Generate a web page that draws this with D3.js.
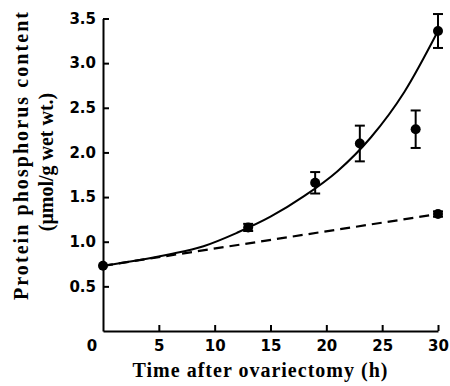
<!DOCTYPE html>
<html>
<head>
<meta charset="utf-8">
<script src="https://cdn.jsdelivr.net/npm/d3@7"></script>
<style>
	body { margin: 0; background: #fff; }
	svg { display: block; }
	.tick text, .zero { font-family: 'DejaVu Sans', sans-serif; font-weight: bold; font-size: 15px; fill: #000; }
	.title { font-family: 'Liberation Serif', 'DejaVu Serif', serif; font-weight: bold; font-size: 20px; fill: #000; }
</style>
</head>
<body>
<svg id="svg" width="450" height="386"></svg>
<script>
// measured points (time h, content, error)
const times = [0, 13, 19, 23, 28, 30];
const means = [0.73, 1.16, 1.66, 2.1, 2.26, 3.36];
const errs = [0, 0.04, 0.12, 0.2, 0.21, 0.19];

// control point at 30 h
const ctrlTimes = [30];
const ctrlMeans = [1.31];
const ctrlErrs = [0.03];

// solid curve
const curveT = [0, 3, 6, 9, 12, 15, 18, 21, 24, 27, 30];
const curveY = [0.73, 0.79, 0.86, 0.95, 1.1, 1.28, 1.51, 1.79, 2.17, 2.68, 3.36];

// dashed line
const dashT = [0, 30];
const dashY = [0.73, 1.31];

const xTicks = [5, 10, 15, 20, 25, 30];
const yTicks = [0.5, 1.0, 1.5, 2.0, 2.5, 3.0, 3.5];

const margin = { top: 18.5, right: 12, bottom: 55, left: 103 };
const width = 450 - margin.left - margin.right;
const height = 386 - margin.top - margin.bottom;

const x = d3.scaleLinear().domain([0, 30]).range([margin.left, margin.left + width]);
const y = d3.scaleLinear().domain([0, 3.5]).range([margin.top + height, margin.top]);

const svg = d3.select('#svg');

// axes, ticks point inward
const xAxis = d3.axisBottom(x).tickValues(xTicks).tickSizeInner(-6).tickSizeOuter(0).tickPadding(9).tickFormat(d3.format('d'));
const yAxis = d3.axisLeft(y).tickValues(yTicks).tickSizeInner(-6).tickSizeOuter(0).tickPadding(7).tickFormat(d3.format('.1f'));

const gx = svg.append('g').attr('transform', `translate(0, ${margin.top + height})`).call(xAxis);
const gy = svg.append('g').attr('transform', `translate(${margin.left}, 0)`).call(yAxis);
[gx, gy].forEach((g) => {
	g.select('.domain').attr('stroke', '#000').attr('stroke-width', 2);
	g.selectAll('.tick line').attr('stroke', '#000').attr('stroke-width', 2);
});

// shared origin label
svg.append('text')
	.attr('class', 'zero')
	.attr('x', x(0) - 11)
	.attr('y', margin.top + height + 9)
	.attr('text-anchor', 'middle')
	.attr('dy', '0.71em')
	.text('0');

// titles
svg.append('text')
	.attr('class', 'title')
	.attr('x', 260)
	.attr('y', 377)
	.attr('text-anchor', 'middle')
	.attr('textLength', 255)
	.text('Time after ovariectomy (h)');

svg.append('text')
	.attr('class', 'title')
	.attr('transform', 'translate(28, 156) rotate(-90)')
	.attr('text-anchor', 'middle')
	.attr('textLength', 288)
	.text('Protein phosphorus content');

svg.append('text')
	.attr('class', 'title')
	.attr('transform', 'translate(53, 162) rotate(-90)')
	.attr('text-anchor', 'middle')
	.text('(\u03bcmol/g wet wt.)');

// lines
const line = d3.line().x((d) => x(d[0])).y((d) => y(d[1]));

svg.append('path')
	.datum(curveT.map((t, i) => [t, curveY[i]]))
	.attr('d', line.curve(d3.curveMonotoneX))
	.attr('fill', 'none')
	.attr('stroke', '#000')
	.attr('stroke-width', 2);

svg.append('path')
	.datum(dashT.map((t, i) => [t, dashY[i]]))
	.attr('d', d3.line().x((d) => x(d[0])).y((d) => y(d[1])))
	.attr('fill', 'none')
	.attr('stroke', '#000')
	.attr('stroke-width', 2.2)
	.attr('stroke-dasharray', '10,6');

// points with error bars
const pts = times.map((t, i) => ({ t: t, m: means[i], e: errs[i] }))
	.concat(ctrlTimes.map((t, i) => ({ t: t, m: ctrlMeans[i], e: ctrlErrs[i] })));

const eb = svg.append('g').attr('stroke', '#000').attr('stroke-width', 2);
pts.filter((d) => d.e > 0).forEach((d) => {
	eb.append('line').attr('x1', x(d.t)).attr('x2', x(d.t)).attr('y1', y(d.m - d.e)).attr('y2', y(d.m + d.e));
	eb.append('line').attr('x1', x(d.t) - 5).attr('x2', x(d.t) + 5).attr('y1', y(d.m + d.e)).attr('y2', y(d.m + d.e));
	eb.append('line').attr('x1', x(d.t) - 5).attr('x2', x(d.t) + 5).attr('y1', y(d.m - d.e)).attr('y2', y(d.m - d.e));
});

svg.append('g')
	.selectAll('circle')
	.data(pts)
	.enter()
	.append('circle')
	.attr('cx', (d) => x(d.t))
	.attr('cy', (d) => y(d.m))
	.attr('r', 5)
	.attr('fill', '#000');
</script>
</body>
</html>
